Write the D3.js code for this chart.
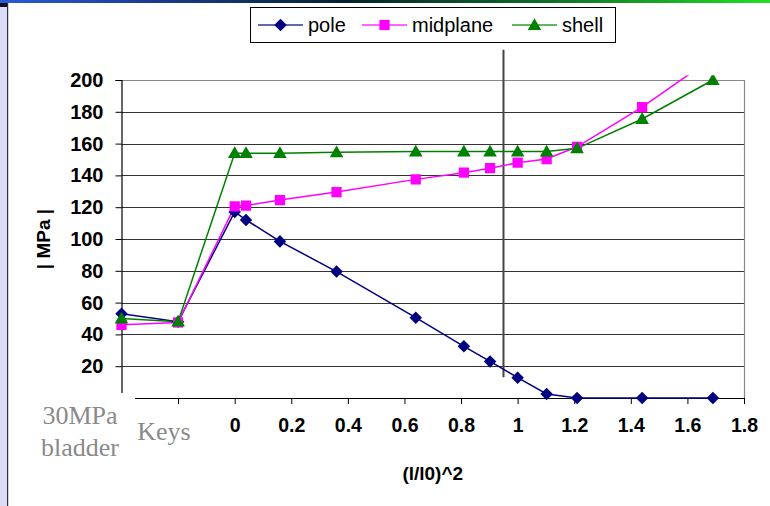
<!DOCTYPE html>
<html>
<head>
<meta charset="utf-8">
<script src="https://cdn.jsdelivr.net/npm/d3@7"></script>
<style>
  html, body { margin: 0; padding: 0; background: #fff; }
  svg { display: block; }
</style>
</head>
<body>
<svg id="chart" width="770" height="506"></svg>
<script>
// (l/l0)^2 positions; the first two are the "30MPa bladder" and "Keys" stages
const xValues = [-0.4, -0.2, 0, 0.04, 0.16, 0.36, 0.64, 0.81, 0.9025, 1.0, 1.1025, 1.21, 1.44, 1.69];
const pole     = [53, 48, 117, 112, 98.5, 79.5, 50.5, 32.5, 23, 12.8, 2.5, 0, 0, 0];
const midplane = [46, 47.5, 120.5, 121, 124.5, 129.5, 137.5, 141.7, 144.5, 148, 150.3, 158, 183, 214];
const shell    = [50, 48, 154, 154, 154, 154.5, 155, 155, 155, 155, 155, 157, 175.5, 200];

const yTicks = [0, 20, 40, 60, 80, 100, 120, 140, 160, 180, 200];
const yTickLabels = ["", "20", "40", "60", "80", "100", "120", "140", "160", "180", "200"];
const xTicks = [-0.4, -0.2, 0, 0.2, 0.4, 0.6, 0.8, 1, 1.2, 1.4, 1.6, 1.8];
const xTickLabels = ["", "", "0", "0.2", "0.4", "0.6", "0.8", "1", "1.2", "1.4", "1.6", "1.8"];
const stageLabels = [{ cx: 80, lines: ["30MPa", "bladder"] }, { cx: 164, lines: ["Keys"] }];
const markerX = 0.95;            // vertical reference line
const markerRange = [13, 219];

const seriesList = [
  { name: "pole",     values: pole,     color: "#000080", shape: "diamond" },
  { name: "midplane", values: midplane, color: "#ff00ff", shape: "square" },
  { name: "shell",    values: shell,    color: "#008000", shape: "triangle" }
];

const svg = d3.select("#chart");
const W = 770, H = 506;
const plot = { left: 121.5, right: 744, top: 80, bottom: 398 };

const x = d3.scaleLinear().domain([-0.4, 1.8]).range([plot.left, plot.right]);
const y = d3.scaleLinear().domain([0, 200]).range([plot.bottom, plot.top]);

// window frame: gradient title strip and lavender side strip
const defs = svg.append("defs");
const grad = defs.append("linearGradient").attr("id", "topbar").attr("x1", "0").attr("x2", "1");
[["0%", "#2a5ad8"], ["20%", "#1a3c90"], ["45%", "#06222e"], ["70%", "#0f6a2a"], ["100%", "#22e022"]]
  .forEach(([o, c]) => grad.append("stop").attr("offset", o).attr("stop-color", c));
svg.append("rect").attr("x", 0).attr("y", 0).attr("width", W).attr("height", 3).attr("fill", "url(#topbar)");
svg.append("rect").attr("x", 0).attr("y", 3).attr("width", 7).attr("height", H - 3).attr("fill", "#dcdcf8");
svg.append("rect").attr("x", 0).attr("y", 3).attr("width", 7).attr("height", 4).attr("fill", "#101020");
svg.append("rect").attr("x", 7).attr("y", 3).attr("width", 1.2).attr("height", H - 3).attr("fill", "#303040");

// gridlines
svg.append("g").selectAll("line").data(yTicks.filter(v => v > 0 && v < 200)).join("line")
  .attr("x1", plot.left).attr("x2", plot.right)
  .attr("y1", d => Math.round(y(d)) + 0.5).attr("y2", d => Math.round(y(d)) + 0.5)
  .attr("stroke", "#333").attr("stroke-width", 1);

// plot-area border (top and right)
svg.append("path")
  .attr("d", `M${plot.left},${Math.round(y(200)) + 0.5}H${plot.right + 0.5}V${plot.bottom}`)
  .attr("fill", "none").attr("stroke", "#888").attr("stroke-width", 1.2);

// y axis
const yAxis = d3.axisLeft(y).tickValues(yTicks).tickSize(6).tickPadding(12)
  .tickFormat((d, i) => yTickLabels[i]);
const gy = svg.append("g").attr("transform", `translate(${plot.left},0)`).call(yAxis);
gy.select(".domain").attr("stroke", "#000").attr("stroke-width", 1.2);
gy.selectAll(".tick line").attr("stroke", "#000");
gy.selectAll("text").attr("font-family", "Liberation Sans, Arial, sans-serif")
  .attr("font-size", 20).attr("font-weight", "bold").attr("fill", "#000");

// x axis
const xAxis = d3.axisBottom(x).tickValues(xTicks).tickSize(6).tickSizeOuter(0).tickPadding(14)
  .tickFormat((d, i) => xTickLabels[i]);
const gx = svg.append("g").attr("transform", `translate(0,${plot.bottom})`).call(xAxis);
gx.select(".domain").attr("stroke", "#000").attr("stroke-width", 1.2);
gx.selectAll(".tick line").attr("stroke", "#000");
gx.selectAll("text").attr("font-family", "Liberation Sans, Arial, sans-serif")
  .attr("font-size", 19.5).attr("font-weight", "bold").attr("fill", "#000");

// axis titles
svg.append("text")
  .attr("transform", `translate(50,${(plot.top + plot.bottom) / 2}) rotate(-90)`)
  .attr("text-anchor", "middle")
  .attr("font-family", "Liberation Sans, Arial, sans-serif").attr("font-size", 19).attr("font-weight", "bold")
  .text("| MPa |");
svg.append("text")
  .attr("x", (plot.left + plot.right) / 2).attr("y", 480)
  .attr("text-anchor", "middle")
  .attr("font-family", "Liberation Sans, Arial, sans-serif").attr("font-size", 19).attr("font-weight", "bold")
  .text("(l/l0)^2");

// vertical reference line
svg.append("line")
  .attr("x1", x(markerX)).attr("x2", x(markerX))
  .attr("y1", y(markerRange[0])).attr("y2", y(markerRange[1]))
  .attr("stroke", "#444").attr("stroke-width", 2);

// series
defs.append("clipPath").attr("id", "plotclip").append("rect")
  .attr("x", 100).attr("y", y(203)).attr("width", 660).attr("height", plot.bottom + 20 - y(203));

const symbolFor = {
  diamond: d3.symbol().type(d3.symbolDiamond2).size(100),
  square: d3.symbol().type(d3.symbolSquare).size(105),
  triangle: d3.symbol().type(d3.symbolTriangle).size(80)
};

const line = d3.line().x(d => x(d[0])).y(d => y(d[1]));
const series = svg.append("g").attr("clip-path", "url(#plotclip)");
seriesList.forEach(s => {
  const pts = xValues.map((xv, i) => [xv, s.values[i]]);
  series.append("path").datum(pts).attr("d", line)
    .attr("fill", "none").attr("stroke", s.color).attr("stroke-width", 1.5);
});
seriesList.forEach(s => {
  const pts = xValues.map((xv, i) => [xv, s.values[i]]);
  series.append("g").selectAll("path").data(pts).join("path")
    .attr("transform", d => `translate(${x(d[0])},${y(d[1]) + (s.shape === "triangle" ? 1 : 0)})`)
    .attr("d", symbolFor[s.shape]).attr("fill", s.color);
});

// stage label boxes in the lower-left corner
svg.append("rect").attr("x", 10).attr("y", 393).attr("width", 125).attr("height", 75).attr("fill", "#fff");
stageLabels.forEach(st => {
  const t = svg.append("text")
    .attr("text-anchor", "middle")
    .attr("font-family", "Liberation Serif, Times New Roman, serif").attr("font-size", 26)
    .attr("fill", "#8a8a8a");
  st.lines.forEach((ln, i) => {
    t.append("tspan").attr("x", st.cx).attr("y", (st.lines.length > 1 ? 424 : 440) + i * 32).text(ln);
  });
});

// legend
const lg = svg.append("g");
lg.append("rect").attr("x", 250.5).attr("y", 7.5).attr("width", 365).attr("height", 35)
  .attr("fill", "#fff").attr("stroke", "#000").attr("stroke-width", 1);
const legendPos = [258, 362, 512];
seriesList.forEach((s, i) => {
  const lx = legendPos[i];
  lg.append("line").attr("x1", lx).attr("x2", lx + 45).attr("y1", 25).attr("y2", 25)
    .attr("stroke", s.color).attr("stroke-width", 1.5).attr("stroke-opacity", 0.8);
  lg.append("path").attr("transform", `translate(${lx + 22.5},${25 + (s.shape === "triangle" ? 1 : 0)})`)
    .attr("d", symbolFor[s.shape]).attr("fill", s.color);
  lg.append("text").attr("x", lx + 50).attr("y", 32)
    .attr("font-family", "Liberation Sans, Arial, sans-serif").attr("font-size", 20)
    .text(s.name);
});
</script>
</body>
</html>
